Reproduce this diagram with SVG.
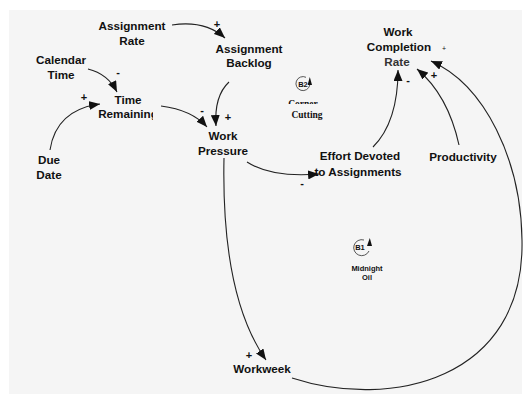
<svg xmlns="http://www.w3.org/2000/svg" width="532" height="394" viewBox="0 0 532 394">
  <defs>
    <marker id="arrow" markerUnits="userSpaceOnUse" markerWidth="12" markerHeight="9" refX="11" refY="4.5" orient="auto">
      <path d="M0,0 L11,4.5 L0,9 z" fill="#111"/>
    </marker>
    <clipPath id="clipRemaining">
      <rect x="0" y="0" width="153" height="394"/>
    </clipPath>
    <clipPath id="clipCorner">
      <rect x="280" y="95" width="60" height="9"/>
    </clipPath>
  </defs>
  <style>
    .lbl { font-family: "Liberation Sans", Arial, sans-serif; font-weight: bold; font-size: 11.7px; fill: #111; text-anchor: middle; }
    .sign { font-family: "Liberation Sans", Arial, sans-serif; font-weight: bold; font-size: 11px; fill: #111; text-anchor: middle; }
    .loop { font-family: "Liberation Sans", Arial, sans-serif; font-weight: bold; font-size: 7.5px; fill: #111; text-anchor: middle; }
    .loopname { font-family: "Liberation Sans", Arial, sans-serif; font-weight: bold; font-size: 7.5px; fill: #111; text-anchor: middle; }
    .serif { font-family: "Liberation Serif", "Times New Roman", serif; font-weight: bold; font-size: 9.5px; fill: #111; text-anchor: middle; }
    .link { fill: none; stroke: #222; stroke-width: 1.1; marker-end: url(#arrow); }
    .ring { fill: none; stroke: #444; stroke-width: 0.9; }
  </style>

  <!-- page background -->
  <rect x="0" y="0" width="532" height="394" fill="#ffffff"/>
  <rect x="9" y="10" width="513" height="384" fill="#f5f5f5"/>

  <!-- causal links -->
  <g id="connectors">
    <path class="link" d="M172,25 Q205,20 225,38"/>
    <path class="link" d="M88,69 Q108,74 117,92"/>
    <path class="link" d="M50,150 Q56,110 100,104"/>
    <path class="link" d="M161,106 Q192,110 207,127"/>
    <path class="link" d="M229,82 Q214,96 216,126"/>
    <path class="link" d="M247,162 Q272,178 319,174"/>
    <path class="link" d="M373,147 Q398,122 398,70"/>
    <path class="link" d="M459,145 Q448,95 417,69"/>
    <path class="link" d="M224,158 C222,255 238,320 266,360"/>
    <path class="link" d="M292,378 C390,410 525,380 522,240 C521,160 485,85 431,61"/>
  </g>

  <!-- polarity signs -->
  <g id="signs">
    <text class="sign" x="217" y="28">+</text>
    <text class="sign" x="118" y="76">-</text>
    <text class="sign" x="84" y="101">+</text>
    <text class="sign" x="202" y="114">-</text>
    <text class="sign" x="228" y="121">+</text>
    <text class="sign" x="302" y="187">-</text>
    <text class="sign" x="408" y="84">-</text>
    <text class="sign" x="434" y="79">+</text>
    <text class="sign" x="444" y="51" style="font-size:7px;font-weight:normal">+</text>
    <text class="sign" x="249" y="359">+</text>
  </g>

  <g id="assignment-rate">
    <text class="lbl" x="132" y="30">Assignment</text>
    <text class="lbl" x="132" y="45">Rate</text>
  </g>
  <g id="calendar-time">
    <text class="lbl" x="61" y="64">Calendar</text>
    <text class="lbl" x="61" y="79">Time</text>
  </g>
  <g id="time-remaining">
    <text class="lbl" x="128" y="104">Time</text>
    <text class="lbl" x="128" y="118" clip-path="url(#clipRemaining)">Remaining</text>
  </g>
  <g id="due-date">
    <text class="lbl" x="49" y="164">Due</text>
    <text class="lbl" x="49" y="179">Date</text>
  </g>
  <g id="assignment-backlog">
    <text class="lbl" x="249" y="53">Assignment</text>
    <text class="lbl" x="249" y="67">Backlog</text>
  </g>
  <g id="work-pressure">
    <text class="lbl" x="223" y="140">Work</text>
    <text class="lbl" x="223" y="155">Pressure</text>
  </g>
  <g id="work-completion-rate">
    <text class="lbl" x="398" y="36">Work</text>
    <text class="lbl" x="399" y="51">Completion</text>
    <text class="lbl" x="397" y="66" style="fill:#333">Rate</text>
  </g>
  <g id="effort-devoted">
    <text class="lbl" x="360" y="160">Effort Devoted</text>
    <text class="lbl" x="358" y="176">to Assignments</text>
  </g>
  <g id="productivity">
    <text class="lbl" x="463" y="161">Productivity</text>
  </g>
  <g id="workweek">
    <text class="lbl" x="262" y="373">Workweek</text>
  </g>

  <!-- balancing loop B2 -->
  <g id="loop-b2">
    <path class="ring" d="M306,77.3 A7,7 0 1 0 309.8,85"/>
    <path d="M307.6,85 L312,85 L309.8,77 z" fill="#111"/>
    <text class="loopname" x="303" y="87">B2</text>
    <text class="serif" x="303" y="107" clip-path="url(#clipCorner)">Corner</text>
    <text class="serif" x="307" y="118">Cutting</text>
  </g>

  <!-- balancing loop B1 -->
  <g id="loop-b1">
    <path class="ring" d="M364,240 A8,8 0 1 0 369,251"/>
    <path d="M367,246 L372,246 L369.8,238 z" fill="#111"/>
    <text class="loopname" x="360" y="250">B1</text>
    <text class="loop" x="367" y="271">Midnight</text>
    <text class="loop" x="367" y="280">Oil</text>
  </g>
</svg>
